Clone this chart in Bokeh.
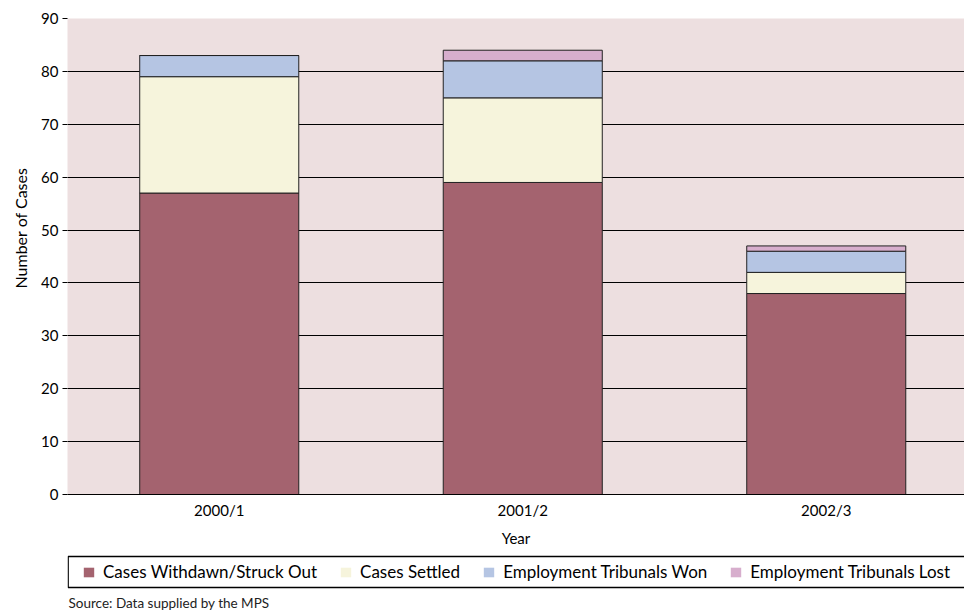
from bokeh.plotting import figure
from bokeh.models import (ColumnDataSource, Legend, Label, FixedTicker, Title,
                          Range1d, BoxAnnotation)
from bokeh.layouts import column
from bokeh.embed import file_html
from bokeh.resources import INLINE

years = ["2000/1", "2001/2", "2002/3"]
withdrawn = [57, 59, 38]
settled = [22, 16, 4]
won = [4, 7, 4]
lost = [0, 2, 1]
series_names = ["Cases Withdawn/Struck Out", "Cases Settled",
                "Employment Tribunals Won", "Employment Tribunals Lost"]
y_ticks = [0, 10, 20, 30, 40, 50, 60, 70, 80, 90]

colors = ["#A4636F", "#F6F4DC", "#B5C5E3", "#D7AECD"]
keys = ["withdrawn", "settled", "won", "lost"]
xpos = [i + 0.5 for i in range(len(years))]
source = ColumnDataSource(dict(x=xpos, withdrawn=withdrawn, settled=settled,
                               won=won, lost=lost))

FONT = "Lato"

p = figure(x_range=Range1d(0, 2.9555), y_range=(0, 90), width=964, height=549,
           output_backend="svg", toolbar_location=None,
           min_border_left=67, min_border_right=0, min_border_top=18,
           min_border_bottom=55, background_fill_color="#EDDFE0",
           border_fill_color="white", outline_line_color=None)

renderers = p.vbar_stack(keys, x="x", width=0.524, source=source,
                         fill_color=colors, line_color="#222222", line_width=1)

p.ygrid.grid_line_color = "black"
p.ygrid.grid_line_width = 1
p.xgrid.grid_line_color = None

p.yaxis.ticker = FixedTicker(ticks=y_ticks)
p.yaxis.axis_line_color = None
p.yaxis.major_tick_line_color = "black"
p.yaxis.major_tick_out = 5
p.yaxis.major_tick_in = 0
p.yaxis.minor_tick_line_color = None
p.yaxis.major_label_text_font = FONT
p.yaxis.major_label_text_font_size = "15px"
p.yaxis.major_label_text_color = "black"
p.yaxis.major_label_standoff = 4

ylab = Title(text="Number of Cases", align="left", offset=206,
             text_font=FONT, text_font_size="16px", text_font_style="normal",
             text_color="black", standoff=17)
p.add_layout(ylab, "left")

p.xaxis.ticker = FixedTicker(ticks=xpos)
p.xaxis.major_label_overrides = {x: y for x, y in zip(xpos, years)}
p.xaxis.axis_line_color = "black"
p.xaxis.major_tick_line_color = None
p.xaxis.major_tick_out = 0
p.xaxis.major_tick_in = 0
p.xaxis.minor_tick_line_color = None
p.xaxis.minor_tick_out = 0
p.xaxis.major_label_text_font = FONT
p.xaxis.major_label_text_font_size = "15px"
p.xaxis.major_label_text_color = "black"
p.xaxis.major_label_standoff = 6
p.xaxis.axis_label = "Year"
p.xaxis.axis_label_text_font = FONT
p.xaxis.axis_label_text_font_size = "15px"
p.xaxis.axis_label_text_font_style = "normal"
p.xaxis.axis_label_text_color = "black"
p.xaxis.axis_label_standoff = 7

# Legend / source strip (its frame is aligned with the main frame, x from 67)
q = figure(x_range=Range1d(0, 897), y_range=Range1d(0, 61), width=964, height=61,
           output_backend="svg", toolbar_location=None,
           min_border=0, min_border_left=67, outline_line_color=None,
           x_axis_location=None, y_axis_location=None)
q.grid.grid_line_color = None

legend_renderers = []
for key, col in zip(keys, colors):
    r = q.rect(x=[-100], y=[-100], width=1, height=1, fill_color=col,
               line_color=None)
    legend_renderers.append(r)

box = BoxAnnotation(left=0.7, right=1000, bottom=23, top=54,
                    fill_color="white", fill_alpha=1,
                    line_color="black", line_alpha=1, line_width=1.3)
q.add_layout(box)

legend = Legend(items=[(n, [r]) for n, r in zip(series_names, legend_renderers)],
                orientation="horizontal", location=(15, 28),
                label_text_font=FONT, label_text_font_size="17px",
                label_text_color="black",
                glyph_width=13, glyph_height=12, label_standoff=8,
                spacing=22, padding=0, margin=0, label_height=20,
                border_line_color=None, background_fill_alpha=0)
q.add_layout(legend, "center")

src = Label(x=1, y=8, text="Source: Data supplied by the MPS",
            text_font=FONT, text_font_size="13.5px", text_color="#222222",
            text_baseline="alphabetic")
q.add_layout(src)

open("out.html", "w").write(file_html(column(p, q, spacing=0), INLINE))
